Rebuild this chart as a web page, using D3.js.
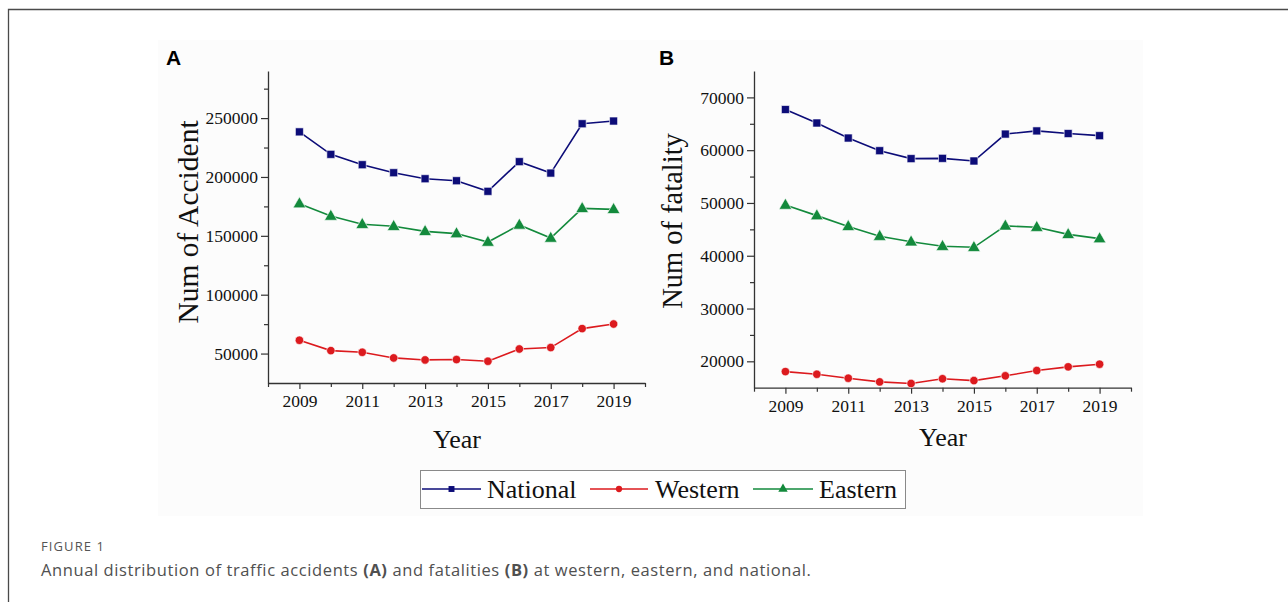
<!DOCTYPE html>
<html>
<head>
<meta charset="utf-8">
<script src="https://cdn.jsdelivr.net/npm/d3@7"></script>
<style>
  html, body { margin: 0; padding: 0; background: #ffffff; }
  svg { display: block; }
  .serif { font-family: "Liberation Serif", "Times New Roman", serif; fill: #111; }
</style>
</head>
<body>
<svg id="fig" width="1288" height="602"></svg>
<script>
// Years on the horizontal axis
const years = [2009, 2010, 2011, 2012, 2013, 2014, 2015, 2016, 2017, 2018, 2019];

// (A) number of traffic accidents
const accidentNational = [238300, 219200, 210400, 203600, 198500, 196800, 187800, 213000, 203300, 245200, 247500];
const accidentWestern  = [61300, 52500, 51100, 46300, 44600, 44900, 43500, 53900, 55100, 71200, 75100];
const accidentEastern  = [177300, 166800, 159800, 158100, 153800, 151900, 144700, 159200, 148100, 173300, 172500];

// (B) number of fatalities
const fatalityNational = [67700, 65150, 62300, 59900, 58400, 58450, 57950, 63050, 63650, 63150, 62750];
const fatalityWestern  = [18050, 17550, 16800, 16100, 15800, 16700, 16350, 17250, 18250, 18950, 19450];
const fatalityEastern  = [49600, 47600, 45550, 43700, 42650, 41800, 41600, 45650, 45400, 44050, 43250];

// Axis ticks
const accidentTicks = [50000, 100000, 150000, 200000, 250000];
const accidentMinorTicks = [75000, 125000, 175000, 225000, 275000];
const fatalityTicks = [20000, 30000, 40000, 50000, 60000, 70000];
const fatalityMinorTicks = [25000, 35000, 45000, 55000, 65000];
const yearTicks = [2009, 2011, 2013, 2015, 2017, 2019];
const yearMinorTicks = [2008, 2010, 2012, 2014, 2016, 2018, 2020];

const seriesNames = ["National", "Western", "Eastern"];
const seriesColors = { National: "#0c0c78", Western: "#dc1a1e", Eastern: "#138a3c" };
const seriesShapes = { National: d3.symbolSquare, Western: d3.symbolCircle, Eastern: d3.symbolTriangle };
const seriesSizes = { National: 64, Western: 56, Eastern: 70 };

const svg = d3.select("#fig");

// Outer figure frame (top and left edges visible)
svg.append("path")
  .attr("d", "M8.5,602 L8.5,9.5 L1288,9.5")
  .attr("fill", "none").attr("stroke", "#4a4a4a").attr("stroke-width", 1.3);

// Faint backdrop behind the plotted figure
svg.append("rect")
  .attr("x", 158).attr("y", 40).attr("width", 985).attr("height", 476)
  .attr("fill", "#fcfcfc");

function drawPanel(cfg) {
  const g = svg.append("g");
  const x = d3.scaleLinear().domain([2008, 2020]).range([cfg.left, cfg.right]);
  const y = d3.scaleLinear().domain(cfg.yDomain).range([cfg.bottom, cfg.top]);

  // minor ticks
  g.append("g")
    .attr("transform", `translate(${cfg.left},0)`)
    .call(d3.axisLeft(y).tickValues(cfg.minor).tickSize(4).tickFormat("").tickSizeOuter(0))
    .call(a => a.select(".domain").remove())
    .selectAll("line").attr("stroke", "#333").attr("stroke-width", 1.2);
  g.append("g")
    .attr("transform", `translate(0,${cfg.bottom})`)
    .call(d3.axisBottom(x).tickValues(yearMinorTicks).tickSize(4).tickFormat("").tickSizeOuter(0))
    .call(a => a.select(".domain").remove())
    .selectAll("line").attr("stroke", "#333").attr("stroke-width", 1.2);

  // major axes
  const yAxis = g.append("g")
    .attr("transform", `translate(${cfg.left},0)`)
    .call(d3.axisLeft(y).tickValues(cfg.ticks).tickSize(7).tickPadding(3).tickSizeOuter(0).tickFormat(d3.format("d")));
  const xAxis = g.append("g")
    .attr("transform", `translate(0,${cfg.bottom})`)
    .call(d3.axisBottom(x).tickValues(yearTicks).tickSize(6).tickPadding(6).tickSizeOuter(0).tickFormat(d3.format("d")));
  [yAxis, xAxis].forEach(a => {
    a.select(".domain").attr("stroke", "#333").attr("stroke-width", 1.3);
    a.selectAll(".tick line").attr("stroke", "#333").attr("stroke-width", 1.2);
    a.selectAll(".tick text")
      .attr("font-family", '"Liberation Serif", "Times New Roman", serif')
      .attr("font-size", 17.5).attr("fill", "#111");
  });

  // series lines and markers
  cfg.series.forEach(s => {
    const pts = years.map((yr, i) => [x(yr), y(s.values[i])]);
    g.append("path")
      .attr("d", d3.line()(pts))
      .attr("fill", "none").attr("stroke", seriesColors[s.name]).attr("stroke-width", 1.6);
    g.selectAll(null).data(pts).join("path")
      .attr("transform", p => `translate(${p[0]},${p[1] + (s.name === "Eastern" ? 0.5 : 0)})`)
      .attr("d", d3.symbol().type(seriesShapes[s.name]).size(seriesSizes[s.name]))
      .attr("fill", seriesColors[s.name]).attr("stroke", "#ffffff").attr("stroke-width", 0.6);
  });

  // axis titles
  g.append("text").attr("class", "serif")
    .attr("transform", `translate(${cfg.yTitleX},${cfg.yTitleY}) rotate(-90)`)
    .attr("text-anchor", "middle").attr("font-size", cfg.yTitleSize).text(cfg.yTitle);
  g.append("text").attr("class", "serif")
    .attr("x", cfg.xTitleX).attr("y", cfg.xTitleY)
    .attr("text-anchor", "middle").attr("font-size", 26).text("Year");

  // panel letter
  g.append("text")
    .attr("x", cfg.letterX).attr("y", 65)
    .attr("font-family", '"Liberation Sans", Arial, sans-serif')
    .attr("font-weight", "bold").attr("font-size", 21).attr("fill", "#000")
    .text(cfg.letter);
}

drawPanel({
  letter: "A", letterX: 166,
  left: 268, right: 645, top: 71, bottom: 383,
  yDomain: [25000, 290000], ticks: accidentTicks, minor: accidentMinorTicks,
  yTitle: "Num of Accident", yTitleX: 198, yTitleY: 222, yTitleSize: 29.5,
  xTitleX: 457, xTitleY: 448,
  series: [
    { name: "National", values: accidentNational },
    { name: "Western", values: accidentWestern },
    { name: "Eastern", values: accidentEastern }
  ]
});

drawPanel({
  letter: "B", letterX: 659,
  left: 754, right: 1131, top: 71, bottom: 387.7,
  yDomain: [15000, 75000], ticks: fatalityTicks, minor: fatalityMinorTicks,
  yTitle: "Num of fatality", yTitleX: 682, yTitleY: 221, yTitleSize: 28.5,
  xTitleX: 943, xTitleY: 446,
  series: [
    { name: "National", values: fatalityNational },
    { name: "Western", values: fatalityWestern },
    { name: "Eastern", values: fatalityEastern }
  ]
});

// Legend
const legend = svg.append("g");
legend.append("rect")
  .attr("x", 420.5).attr("y", 470.5).attr("width", 485).attr("height", 38)
  .attr("fill", "#ffffff").attr("stroke", "#8a8a8a").attr("stroke-width", 1);
const legendItems = [
  { name: "National", x0: 422, x1: 481, tx: 487 },
  { name: "Western", x0: 590, x1: 648, tx: 655 },
  { name: "Eastern", x0: 753, x1: 813, tx: 819 }
];
legendItems.forEach(it => {
  const name = seriesNames.find(n => n === it.name);
  legend.append("line")
    .attr("x1", it.x0).attr("x2", it.x1).attr("y1", 489).attr("y2", 489)
    .attr("stroke", seriesColors[name]).attr("stroke-width", 1.6);
  legend.append("path")
    .attr("transform", `translate(${(it.x0 + it.x1) / 2},489)`)
    .attr("d", d3.symbol().type(seriesShapes[name]).size(seriesSizes[name] * 0.55))
    .attr("fill", seriesColors[name]);
  legend.append("text").attr("class", "serif")
    .attr("x", it.tx).attr("y", 498).attr("font-size", 26).text(name);
});

// Caption
svg.append("text")
  .attr("x", 41).attr("y", 551)
  .attr("font-family", '"Open Sans", "Noto Sans", sans-serif')
  .attr("font-size", 13).attr("letter-spacing", 1.1)
  .attr("fill", "#555").text("FIGURE 1");
const cap = svg.append("text")
  .attr("x", 41).attr("y", 576)
  .attr("font-family", '"Open Sans", "Noto Sans", sans-serif')
  .attr("font-size", 16.5).attr("letter-spacing", 0.6).attr("fill", "#505050");
[
  ["Annual distribution of traffic accidents ", false],
  ["(A)", true],
  [" and fatalities ", false],
  ["(B)", true],
  [" at western, eastern, and national.", false]
].forEach(([t, b]) => {
  cap.append("tspan").attr("font-weight", b ? "bold" : "normal").text(t);
});
</script>
</body>
</html>
